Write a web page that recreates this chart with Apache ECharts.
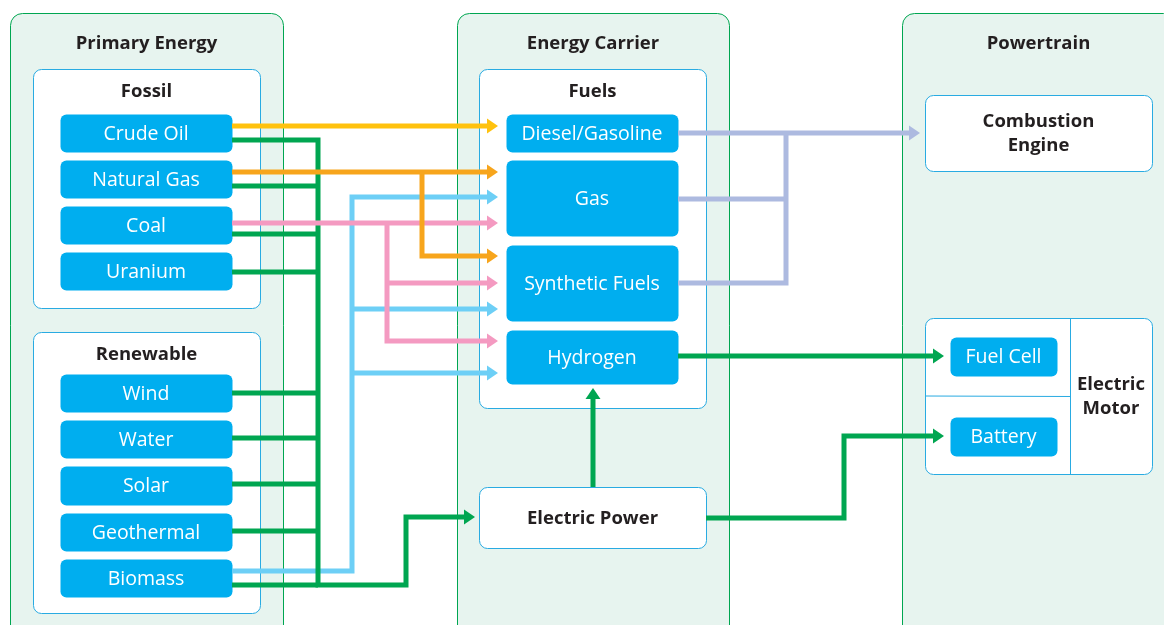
<!DOCTYPE html>
<html>
<head>
<meta charset="utf-8">
<script src="https://cdn.jsdelivr.net/npm/echarts@6/dist/echarts.min.js"></script>
<style>
  html, body { margin: 0; padding: 0; background: #fff; }
  #main { width: 1164px; height: 625px; }
</style>
</head>
<body>
<div id="main"></div>
<script>
// texts of the diagram
const panelTitles = ['Primary Energy', 'Energy Carrier', 'Powertrain'];
const groupTitles = ['Fossil', 'Renewable', 'Fuels'];
const fossil = ['Crude Oil', 'Natural Gas', 'Coal', 'Uranium'];
const renewable = ['Wind', 'Water', 'Solar', 'Geothermal', 'Biomass'];
const fuels = ['Diesel/Gasoline', 'Gas', 'Synthetic Fuels', 'Hydrogen'];
const carriers = ['Electric Power'];
const engines = ['Combustion\nEngine', 'Electric\nMotor'];
const motorParts = ['Fuel Cell', 'Battery'];

// ---- layout (diagram units = px of the 1164x625 canvas) ----
const panelRects = [[10, 13, 283, 660], [457, 13, 729, 660], [902, 13, 1175, 660]];
const groupRects = [[33, 69, 260, 308], [33, 332, 260, 613], [479, 69, 706, 408]];
const fossilRows = [[114, 152], [160, 198], [206, 244], [252, 290]];
const renewableRows = [[374, 412], [420, 458], [466, 505], [513, 551], [559, 597]];
const fuelRows = [[114, 152], [160, 236], [245, 321], [330, 384]];
const carrierRect = [479, 487, 706, 548];
const engineRects = [[925, 95, 1152, 171], [925, 318, 1152, 474]];
const motorPartRects = [[950, 337, 1057, 376], [950, 417, 1057, 456]];
const motorRules = [[1070, 318, 1070, 474], [925, 396, 1070, 396]];

const styles = {
  panel: { fill: '#e7f4ef', stroke: '#00a651', lw: 1, r: 12, color: '#231f20', font: 'bold 18.5px "Open Sans"' },
  group: { fill: '#ffffff', stroke: '#29abe2', lw: 1, r: 8, color: '#231f20', font: 'bold 18.5px "Open Sans"' },
  node: { fill: '#00aeef', stroke: null, lw: 0, r: 6, color: '#ffffff', font: '19.5px "Open Sans"' },
  rule: { stroke: '#29abe2', lw: 1 }
};

const boxes = [];
panelTitles.forEach((t, i) => boxes.push({ kind: 'panel', rect: panelRects[i], text: t, ty: 31 }));
groupTitles.forEach((t, i) => boxes.push({ kind: 'group', rect: groupRects[i], text: t, ty: 23 }));
boxes.push({ kind: 'group', rect: carrierRect, text: carriers[0] });
boxes.push({ kind: 'group', rect: engineRects[0], text: engines[0] });
boxes.push({ kind: 'group', rect: engineRects[1], text: engines[1], tx: 1111 });
motorRules.forEach(r => boxes.push({ kind: 'rule', rect: r }));
fossil.forEach((t, i) => boxes.push({ kind: 'node', rect: [60, fossilRows[i][0], 232, fossilRows[i][1]], text: t }));
renewable.forEach((t, i) => boxes.push({ kind: 'node', rect: [60, renewableRows[i][0], 232, renewableRows[i][1]], text: t }));
fuels.forEach((t, i) => boxes.push({ kind: 'node', rect: [506, fuelRows[i][0], 678, fuelRows[i][1]], text: t }));
motorParts.forEach((t, i) => boxes.push({ kind: 'node', rect: motorPartRects[i], text: t }));

// flow routes, drawn in this order
const lineColors = {
  bio: '#6dcff6', elec: '#00a651', coal: '#f49ac1', gas: '#f7a51c', oil: '#ffc20e', fuel: '#adbae0'
};
const routes = [
  { c: 'bio', pts: [[232, 571], [352, 571], [352, 197], [498, 197]], arrow: true },
  { c: 'bio', pts: [[352, 309], [498, 309]], arrow: true },
  { c: 'bio', pts: [[352, 373], [498, 373]], arrow: true },
  { c: 'elec', pts: [[232, 140], [318, 140], [318, 585], [406, 585], [406, 517], [475, 517]], arrow: true },
  { c: 'elec', pts: [[232, 186], [318, 186]] },
  { c: 'elec', pts: [[232, 234], [318, 234]] },
  { c: 'elec', pts: [[232, 272], [318, 272]] },
  { c: 'elec', pts: [[232, 393], [318, 393]] },
  { c: 'elec', pts: [[232, 438], [318, 438]] },
  { c: 'elec', pts: [[232, 484], [318, 484]] },
  { c: 'elec', pts: [[232, 531], [318, 531]] },
  { c: 'elec', pts: [[232, 585], [318, 585]] },
  { c: 'coal', pts: [[232, 223], [498, 223]], arrow: true },
  { c: 'coal', pts: [[387, 223], [387, 341], [498, 341]], arrow: true },
  { c: 'coal', pts: [[387, 283], [498, 283]], arrow: true },
  { c: 'gas', pts: [[232, 172], [498, 172]], arrow: true },
  { c: 'gas', pts: [[422, 172], [422, 256], [498, 256]], arrow: true },
  { c: 'oil', pts: [[232, 126], [498, 126]], arrow: true },
  { c: 'fuel', pts: [[678, 133], [920, 133]], arrow: true },
  { c: 'fuel', pts: [[678, 199], [786, 199]] },
  { c: 'fuel', pts: [[678, 283], [786, 283], [786, 133]] },
  { c: 'elec', pts: [[678, 356], [944, 356]], arrow: true },
  { c: 'elec', pts: [[706, 518], [844, 518], [844, 436], [944, 436]], arrow: true },
  { c: 'elec', pts: [[593, 487], [593, 388]], arrow: true }
];

function renderBox(params, api) {
  const b = boxes[params.dataIndex];
  const st = styles[b.kind];
  const p0 = api.coord([api.value(0), api.value(1)]);
  const p1 = api.coord([api.value(2), api.value(3)]);
  if (b.kind === 'rule') {
    return {
      type: 'line',
      shape: { x1: Math.round(p0[0]) + 0.5, y1: p0[1], x2: Math.round(p1[0]) + 0.5, y2: Math.round(p1[1]) + 0.5 },
      style: { stroke: st.stroke, lineWidth: st.lw }
    };
  }
  const children = [{
    type: 'rect',
    shape: { x: p0[0] + 0.5, y: p0[1] + 0.5, width: p1[0] - p0[0], height: p1[1] - p0[1], r: st.r },
    style: { fill: st.fill, stroke: st.stroke, lineWidth: st.lw }
  }];
  if (b.text) {
    const tx = b.tx != null ? api.coord([b.tx, 0])[0] : (p0[0] + p1[0]) / 2;
    const ty = b.ty != null ? p0[1] + b.ty : (p0[1] + p1[1]) / 2 + 1;
    children.push({
      type: 'text',
      style: {
        text: b.text, x: tx, y: ty, align: 'center', verticalAlign: 'middle',
        fill: st.color, font: st.font, lineHeight: 24
      }
    });
  }
  return { type: 'group', children: children };
}

function renderRoute(params, api) {
  const r = routes[params.dataIndex];
  const color = lineColors[r.c];
  const pts = r.pts.map(p => api.coord(p));
  const children = [];
  let tri = null;
  if (r.arrow) {
    const n = pts.length;
    const tip = pts[n - 1], prev = pts[n - 2];
    const dx = tip[0] - prev[0], dy = tip[1] - prev[1];
    const len = Math.sqrt(dx * dx + dy * dy);
    const ux = dx / len, uy = dy / len;
    const bx = tip[0] - ux * 11, by = tip[1] - uy * 11;
    pts[n - 1] = [bx + ux * 1, by + uy * 1];
    tri = [tip, [bx - uy * 7.5, by + ux * 7.5], [bx + uy * 7.5, by - ux * 7.5]];
  }
  children.push({
    type: 'polyline',
    shape: { points: pts },
    style: { stroke: color, lineWidth: 5, fill: null, lineJoin: 'miter', lineCap: 'butt' }
  });
  if (tri) {
    children.push({ type: 'polygon', shape: { points: tri }, style: { fill: color } });
  }
  return { type: 'group', children: children };
}

const chart = echarts.init(document.getElementById('main'));
const option = {
  animation: false,
  grid: { left: 0, right: 0, top: 0, bottom: 0 },
  xAxis: { type: 'value', min: 0, max: 1164, show: false },
  yAxis: { type: 'value', min: 0, max: 625, inverse: true, show: false },
  series: [
    {
      type: 'custom',
      renderItem: renderBox,
      encode: { x: [0, 2], y: [1, 3] },
      data: boxes.map(b => b.rect)
    },
    {
      type: 'custom',
      renderItem: renderRoute,
      encode: { x: 0, y: 1 },
      data: routes.map(r => r.pts[0])
    }
  ]
};
chart.setOption(option);
</script>
</body>
</html>
